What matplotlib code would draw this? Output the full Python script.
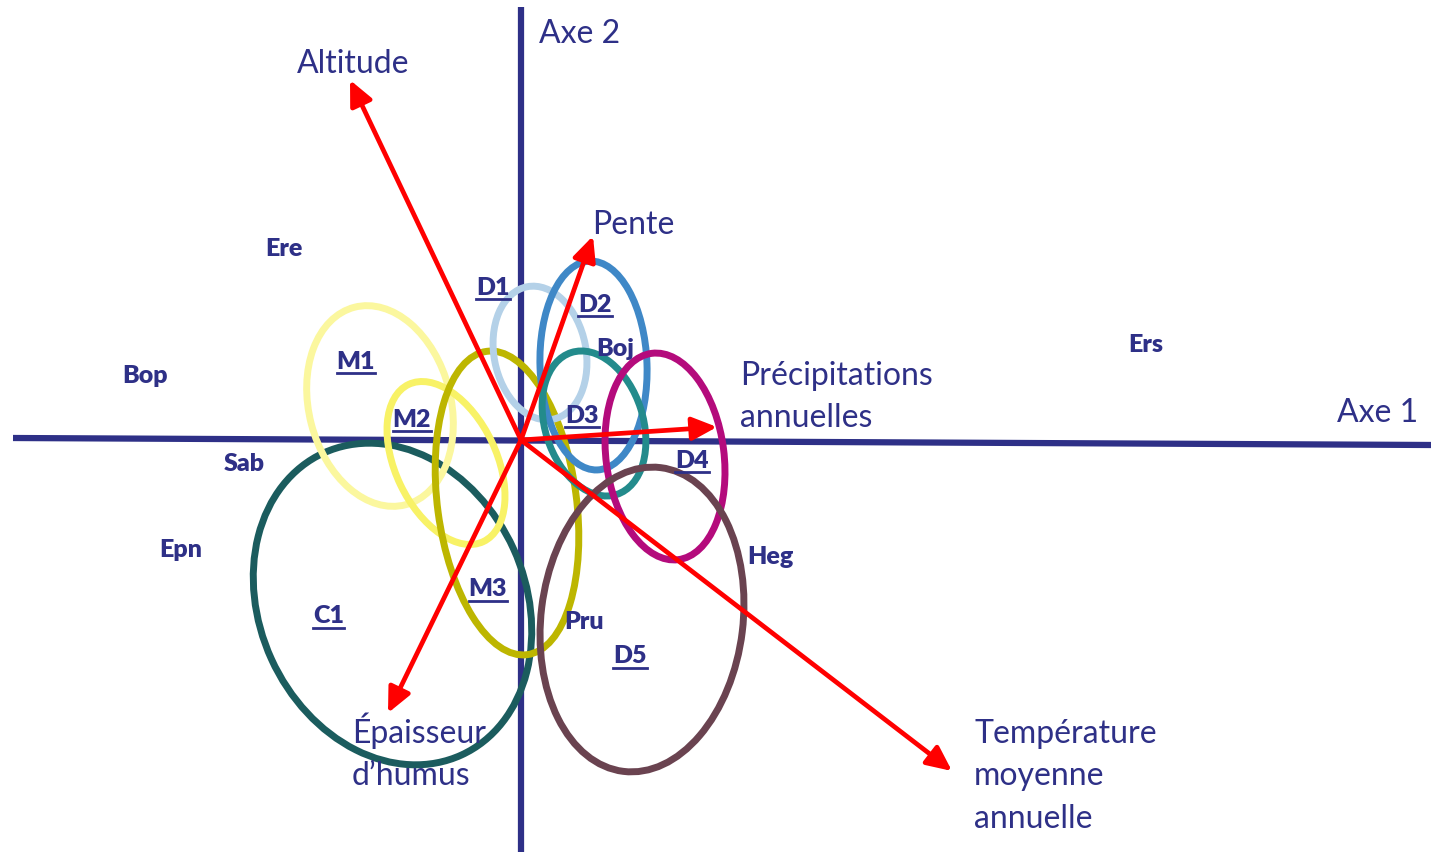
import matplotlib
matplotlib.use("Agg")
import matplotlib.pyplot as plt
from matplotlib.patches import Ellipse

plt.rcParams['font.family'] = ['Lato', 'DejaVu Sans']

NAVY = "#2e3087"
RED = "#ff0000"

# ordination space, origin at the axes crossing
# ellipses of the groups: centre x, centre y, width, height, angle
groups = ["C1", "M1", "M2", "M3", "D1", "D2", "D3", "D4", "D5"]
ell_x = [-1.285, -1.41, -0.75, -0.14, 0.19, 0.725, 0.73, 1.44, 1.21]
ell_y = [-1.64, 0.34, -0.23, -0.63, 0.87, 0.745, 0.165, -0.165, -1.795]
ell_w = [2.66, 1.42, 1.01, 1.39, 0.92, 1.07, 0.98, 1.18, 2.02]
ell_h = [3.32, 2.04, 1.74, 3.06, 1.35, 2.09, 1.49, 2.08, 3.06]
ell_angle = [24.5, 14.5, 25.5, 7.6, 11, 2, 17.7, 7.3, -7]
ell_colors = ["#1b5c5e", "#fbf79e", "#f8f266", "#bdb600", "#b4d1e8",
              "#3f88c7", "#238b8c", "#b40b7c", "#6a4350"]

# group labels (underlined)
group_lab_x = [-1.92, -1.65, -1.09, -0.33, -0.28, 0.74, 0.61, 1.71, 1.09]
group_lab_y = [-1.83, 0.71, 0.13, -1.56, 1.45, 1.28, 0.17, -0.28, -2.23]

# species
species = ["Ere", "Bop", "Sab", "Epn", "Boj", "Ers", "Heg", "Pru"]
sp_x = [-2.37, -3.76, -2.77, -3.40, 0.94, 6.25, 2.49, 0.63]
sp_y = [1.84, 0.57, -0.31, -1.17, 0.84, 0.88, -1.24, -1.89]

# environmental variables (arrow tips)
env_vars = ["Altitude", "Pente", "Précipitations annuelles",
            "Température moyenne annuelle", "Épaisseur d'humus"]
env_x = [-1.71, 0.72, 1.96, 4.31, -1.33]
env_y = [3.60, 2.04, 0.13, -3.31, -2.73]

# variable names, one entry per line: text, left x, baseline y
env_lines = ["Altitude", "Pente", "Précipitations", "annuelles",
             "Température", "moyenne", "annuelle", "Épaisseur", "d’humus"]
env_lab_x = [-2.24, 0.71, 2.19, 2.19, 4.53, 4.53, 4.53, -1.69, -1.69]
env_lab_y = [3.67, 2.06, 0.55, 0.13, -3.03, -3.45, -3.88, -3.03, -3.45]

fig = plt.figure(figsize=(14.31, 8.52), dpi=100)
ax = fig.add_axes([0, 0, 1, 1])
ax.set_xlim(-5.21, 9.10)
ax.set_ylim(-4.12, 4.40)
ax.axis("off")

# axes
ax.plot([-5.08, 9.10], [0.02, -0.05], color=NAVY, lw=4.5, solid_capstyle="butt", zorder=1)
ax.plot([0, 0], [4.33, -4.12], color=NAVY, lw=4.5, solid_capstyle="butt", zorder=1)
ax.text(0.18, 3.97, "Axe 2", color=NAVY, fontsize=23, ha="left", va="baseline")
ax.text(8.16, 0.18, "Axe 1", color=NAVY, fontsize=23, ha="left", va="baseline")

for i in range(len(groups)):
    e = Ellipse((ell_x[i], ell_y[i]), ell_w[i], ell_h[i], angle=ell_angle[i],
                fill=False, edgecolor=ell_colors[i], lw=5, zorder=2)
    ax.add_patch(e)

for i in range(len(env_vars)):
    ax.annotate("", xy=(env_x[i], env_y[i]), xytext=(0, 0),
                arrowprops=dict(arrowstyle="-|>,head_length=0.75,head_width=0.35",
                                color=RED, lw=3.4, mutation_scale=20,
                                shrinkA=0, shrinkB=0), zorder=3)

for txt, x, y in zip(env_lines, env_lab_x, env_lab_y):
    ax.text(x, y, txt, color=NAVY, fontsize=23, ha="left", va="baseline", zorder=4)

for txt, x, y in zip(species, sp_x, sp_y):
    ax.text(x, y, txt, color=NAVY, fontsize=18, fontweight="heavy",
            ha="center", va="baseline", zorder=4)

labels = []
for txt, x, y in zip(groups, group_lab_x, group_lab_y):
    t = ax.text(x, y, txt, color=NAVY, fontsize=18, fontweight="heavy",
                ha="center", va="baseline", zorder=4)
    labels.append(t)

# underline the group labels
fig.canvas.draw()
renderer = fig.canvas.get_renderer()
inv = ax.transData.inverted()
for t, y in zip(labels, group_lab_y):
    bb = t.get_window_extent(renderer)
    x0, _ = inv.transform((bb.x0, 0))
    x1, _ = inv.transform((bb.x1, 0))
    ax.plot([x0, x1], [y - 0.045, y - 0.045], color=NAVY, lw=2, zorder=4)

fig.savefig("out.png", dpi=100)
